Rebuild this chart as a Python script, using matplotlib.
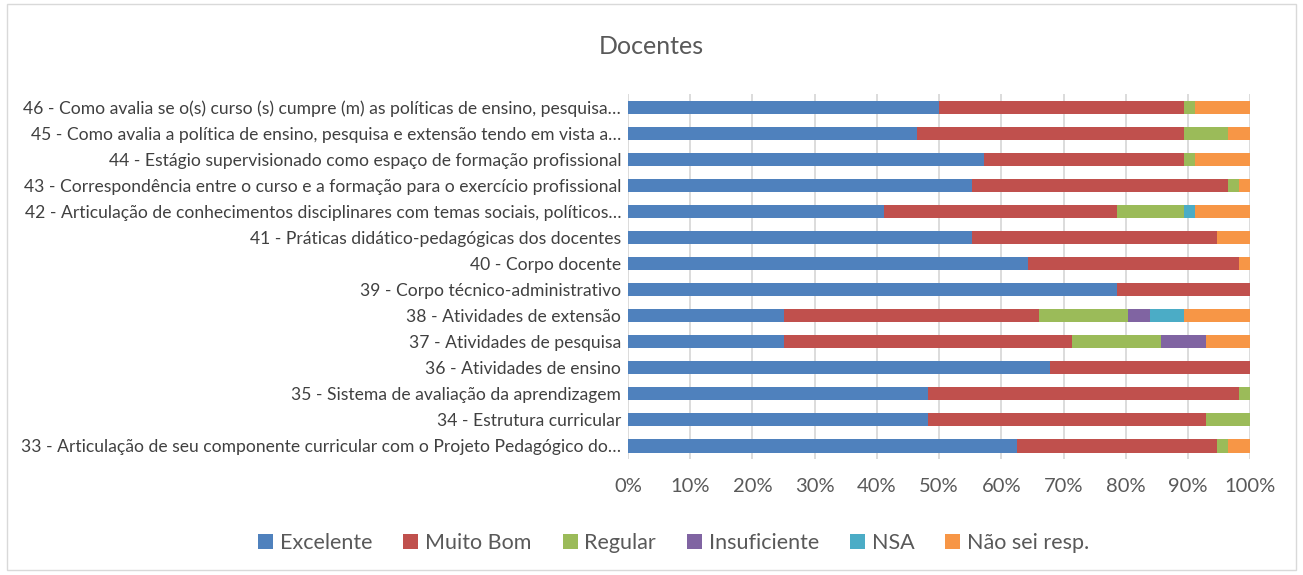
import matplotlib
matplotlib.use("Agg")
import matplotlib.pyplot as plt
import numpy as np
from matplotlib.patches import Rectangle

plt.rcParams['font.family'] = ['Lato', 'DejaVu Sans']

# question labels, bottom to top
questions = [
    "33 - Articulação de seu componente curricular com o Projeto Pedagógico do…",
    "34 - Estrutura curricular",
    "35 - Sistema de avaliação da aprendizagem",
    "36 - Atividades de ensino",
    "37 - Atividades de pesquisa",
    "38 - Atividades de extensão",
    "39 - Corpo técnico-administrativo",
    "40 - Corpo docente",
    "41 - Práticas didático-pedagógicas dos docentes",
    "42 - Articulação de conhecimentos disciplinares com temas sociais, políticos…",
    "43 - Correspondência entre o curso e a formação para o exercício profissional",
    "44 - Estágio supervisionado como espaço de formação profissional",
    "45 - Como avalia a política de ensino, pesquisa e extensão tendo em vista a…",
    "46 - Como avalia se o(s) curso (s) cumpre (m) as políticas de ensino, pesquisa…",
]

series_names = ["Excelente", "Muito Bom", "Regular", "Insuficiente", "NSA", "Não sei resp."]
colors = ["#4F81BD", "#C0504D", "#9BBB59", "#8064A2", "#4BACC6", "#F79646"]

# answer counts per question (same order as questions)
excelente    = [35, 27, 27, 38, 14, 14, 44, 36, 31, 23, 31, 32, 26, 28]
muito_bom    = [18, 25, 28, 18, 26, 23, 12, 19, 22, 21, 23, 18, 24, 22]
regular      = [1, 4, 1, 0, 8, 8, 0, 0, 0, 6, 1, 1, 4, 1]
insuficiente = [0, 0, 0, 0, 4, 2, 0, 0, 0, 0, 0, 0, 0, 0]
nsa          = [0, 0, 0, 0, 0, 3, 0, 0, 0, 1, 0, 0, 0, 0]
nao_sei      = [2, 0, 0, 0, 4, 6, 0, 1, 3, 5, 1, 5, 2, 5]

data = np.array([excelente, muito_bom, regular, insuficiente, nsa, nao_sei], dtype=float)
pct = data / data.sum(axis=0) * 100

fig = plt.figure(figsize=(13.03, 5.75), dpi=100)
ax = fig.add_axes([0.482, 0.2017, 0.4775, 0.6348])

y = np.arange(len(questions))
left = np.zeros(len(questions))
for vals, name, c in zip(pct, series_names, colors):
    ax.barh(y, vals, left=left, height=0.5, color=c, label=name, zorder=3)
    left += vals

ax.set_xlim(0, 100)
ax.set_ylim(-0.5, len(questions) - 0.5)
ax.set_xticks(np.arange(0, 101, 10))
ax.set_xticklabels([f"{v}%" for v in range(0, 101, 10)], fontsize=14.5, color="#595959")
ax.set_yticks(y)
ax.set_yticklabels(questions, fontsize=12.6, color="#404040")
ax.tick_params(length=0, pad=5)
ax.tick_params(axis='x', pad=14)
ax.grid(axis='x', color="#D9D9D9", linewidth=1.3, zorder=0)
for s in ax.spines.values():
    s.set_visible(False)

fig.text(0.5, 0.92, "Docentes", ha='center', va='center', fontsize=18, color="#595959")

fig.legend(loc='center', bbox_to_anchor=(0.517, 0.055), ncol=6, frameon=False,
           fontsize=15.5, handlelength=0.7, handleheight=0.7, handletextpad=0.3,
           columnspacing=1.45, labelcolor="#595959")

fig.patches.append(Rectangle((0.005, 0.008), 0.99, 0.985, transform=fig.transFigure,
                             fill=False, edgecolor="#D9D9D9", linewidth=1))

fig.savefig("out.png", dpi=100)
